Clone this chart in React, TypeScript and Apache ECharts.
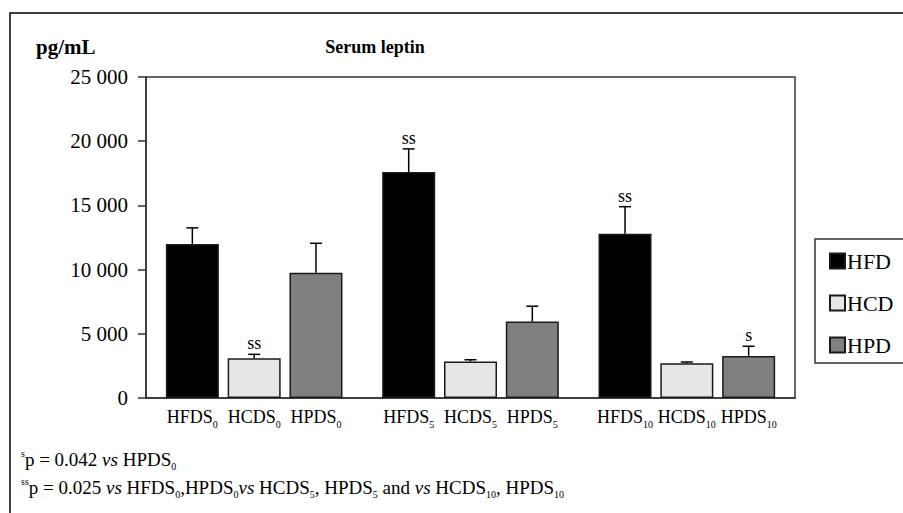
import React, { useEffect, useRef } from 'react';
import * as echarts from 'echarts';

// ---- data ----
const dietNames = ['HFD', 'HCD', 'HPD'];
const catBase = ['HFDS', 'HCDS', 'HPDS'];
const dayGroups = ['0', '5', '10'];
const hfdMeans = [12000, 17600, 12800];
const hcdMeans = [3100, 2850, 2700];
const hpdMeans = [9750, 5950, 3280];
const hfdSD = [1250, 1800, 2100];
const hcdSD = [300, 130, 100];
const hpdSD = [2300, 1200, 750];
const hfdMarks = ['', 'ss', 'ss'];
const hcdMarks = ['ss', '', ''];
const hpdMarks = ['', '', 's'];
const yMin = 0;
const yMax = 25000;
const yStep = 5000;
const dietColors = ['#000000', '#e6e6e6', '#808080'];
const titleText = 'Serum leptin';
const unitText = 'pg/mL';

const FONT = 'Liberation Serif';

const means = [hfdMeans, hcdMeans, hpdMeans];
const sds = [hfdSD, hcdSD, hpdSD];
const marks = [hfdMarks, hcdMarks, hpdMarks];

// layout of category slots: gaps between day groups
const SLOT_COUNT = 21;
const slotOf = (g: number, d: number) => 1 + 7 * g + 2 * d;

export default function App() {
  const ref = useRef<HTMLDivElement>(null);
  useEffect(() => {
    if (!ref.current) return;
    const chart = echarts.init(ref.current, null, { renderer: 'svg' });

    const slotLabels: string[] = Array(SLOT_COUNT).fill('');
    dayGroups.forEach((day, g) => {
      catBase.forEach((b, d) => {
        slotLabels[slotOf(g, d)] = `{m|${b}}{s|${day}}`;
      });
    });

    const barSeries = dietNames.map((name, d) => {
      const arr: any[] = Array(SLOT_COUNT).fill('-');
      dayGroups.forEach((_, g) => {
        arr[slotOf(g, d)] = means[d][g];
      });
      return {
        name,
        type: 'bar',
        data: arr,
        barWidth: 53,
        barGap: '-100%',
        itemStyle: { color: dietColors[d], borderColor: '#1a1a1a', borderWidth: 1.5 },
        emphasis: { disabled: true },
      };
    });

    const errData: number[][] = [];
    const errMarks: string[] = [];
    dietNames.forEach((_, d) => {
      dayGroups.forEach((__, g) => {
        errData.push([slotOf(g, d), means[d][g], means[d][g] + sds[d][g]]);
        errMarks.push(marks[d][g]);
      });
    });

    const errSeries = {
      type: 'custom',
      name: 'err',
      data: errData,
      z: 5,
      silent: true,
      renderItem: (params: any, api: any) => {
        const x = api.value(0);
        const lo = api.coord([x, api.value(1)]);
        const hi = api.coord([x, api.value(2)]);
        const lw = 1.5;
        const children: any[] = [
          { type: 'line', shape: { x1: lo[0], y1: lo[1], x2: hi[0], y2: hi[1] }, style: { stroke: '#000', lineWidth: lw } },
          { type: 'line', shape: { x1: hi[0] - 6, y1: hi[1], x2: hi[0] + 6, y2: hi[1] }, style: { stroke: '#000', lineWidth: lw } },
        ];
        const m = errMarks[params.dataIndex];
        if (m) {
          children.push({
            type: 'text',
            x: hi[0],
            y: hi[1] - 2,
            style: { text: m, fontFamily: FONT, fontSize: 18, fill: '#000', align: 'center', verticalAlign: 'bottom' },
          });
        }
        return { type: 'group', children };
      },
    };

    const richBase = {
      t: { fontFamily: FONT, fontSize: 19, lineHeight: 20, color: '#000' },
      i: { fontFamily: FONT, fontSize: 19, lineHeight: 20, fontStyle: 'italic', color: '#000' },
      sub: { fontFamily: FONT, fontSize: 10, lineHeight: 8, height: 6, verticalAlign: 'bottom', color: '#000' },
      sup: { fontFamily: FONT, fontSize: 10, lineHeight: 8, height: 8, verticalAlign: 'top', color: '#000' },
    };

    const fn1 = '{sup|s}{t|p = 0.042 }{i|vs}{t| HPDS}{sub|0}';
    const fn2 =
      '{sup|ss}{t|p = 0.025 }{i|vs}{t| HFDS}{sub|0}{t|,HPDS}{sub|0}{i|vs}{t| HCDS}{sub|5}{t|, HPDS}{sub|5}{t| and }{i|vs}{t| HCDS}{sub|10}{t|, HPDS}{sub|10}';

    chart.setOption({
      animation: false,
      backgroundColor: '#ffffff',
      textStyle: { fontFamily: FONT },
      grid: {
        left: 146,
        right: 108,
        top: 77,
        bottom: 115,
        show: true,
        borderColor: '#333',
        borderWidth: 1.5,
        containLabel: false,
        outerBoundsMode: 'none',
      },
      legend: {
        data: dietNames,
        orient: 'vertical',
        left: 815,
        top: 239,
        padding: [11, 12, 7, 14],
        itemWidth: 15,
        itemHeight: 15,
        itemGap: 20,
        icon: 'rect',
        borderColor: '#333',
        borderWidth: 1.5,
        selectedMode: false,
        textStyle: { fontFamily: FONT, fontSize: 22, color: '#000', lineHeight: 20, padding: [0, 0, 0, -3] },
      },
      xAxis: {
        type: 'category',
        data: Array.from({ length: SLOT_COUNT }, (_, i) => String(i)),
        boundaryGap: true,
        axisLine: { show: true, lineStyle: { color: '#333', width: 1.5 } },
        axisTick: { show: false },
        splitLine: { show: false },
        axisLabel: {
          interval: 0,
          margin: 9,
          formatter: (_v: string, idx: number) => slotLabels[idx],
          rich: {
            m: { fontFamily: FONT, fontSize: 18, lineHeight: 20, color: '#000' },
            s: { fontFamily: FONT, fontSize: 10, lineHeight: 8, height: 6, verticalAlign: 'bottom', color: '#000' },
          },
        },
      },
      yAxis: {
        type: 'value',
        min: yMin,
        max: yMax,
        interval: yStep,
        axisLine: { show: true, lineStyle: { color: '#333', width: 1.5 } },
        axisTick: { show: true, length: 8, lineStyle: { color: '#333', width: 1.5 } },
        splitLine: { show: false },
        axisLabel: {
          margin: 18,
          fontFamily: FONT,
          fontSize: 21,
          color: '#000',
          padding: [4, 0, 0, 0],
          formatter: (v: number) => String(v).replace(/\B(?=(\d{3})+(?!\d))/g, ' '),
        },
      },
      graphic: [
        {
          type: 'rect',
          shape: { x: 10, y: 13, width: 920, height: 520 },
          style: { fill: 'none', stroke: '#000', lineWidth: 1.5 },
          silent: true,
        },
        {
          type: 'text',
          x: 36,
          y: 47,
          style: { text: unitText, fontFamily: FONT, fontSize: 21, fontWeight: 'bold', fill: '#000', align: 'left', verticalAlign: 'middle' },
        },
        {
          type: 'text',
          x: 375,
          y: 47,
          style: { text: titleText, fontFamily: FONT, fontSize: 18, fontWeight: 'bold', fill: '#000', align: 'center', verticalAlign: 'middle' },
        },
        {
          type: 'text',
          x: 21,
          y: 459,
          style: { text: fn1, rich: richBase, fontFamily: FONT, align: 'left', verticalAlign: 'middle' },
        },
        {
          type: 'text',
          x: 21,
          y: 487,
          style: { text: fn2, rich: richBase, fontFamily: FONT, align: 'left', verticalAlign: 'middle' },
        },
      ],
      series: [...barSeries, errSeries],
    });

    return () => chart.dispose();
  }, []);

  return (
    <div
      ref={ref}
      style={{ position: 'fixed', left: 0, top: 0, width: 903, height: 513, background: '#fff' }}
    />
  );
}
